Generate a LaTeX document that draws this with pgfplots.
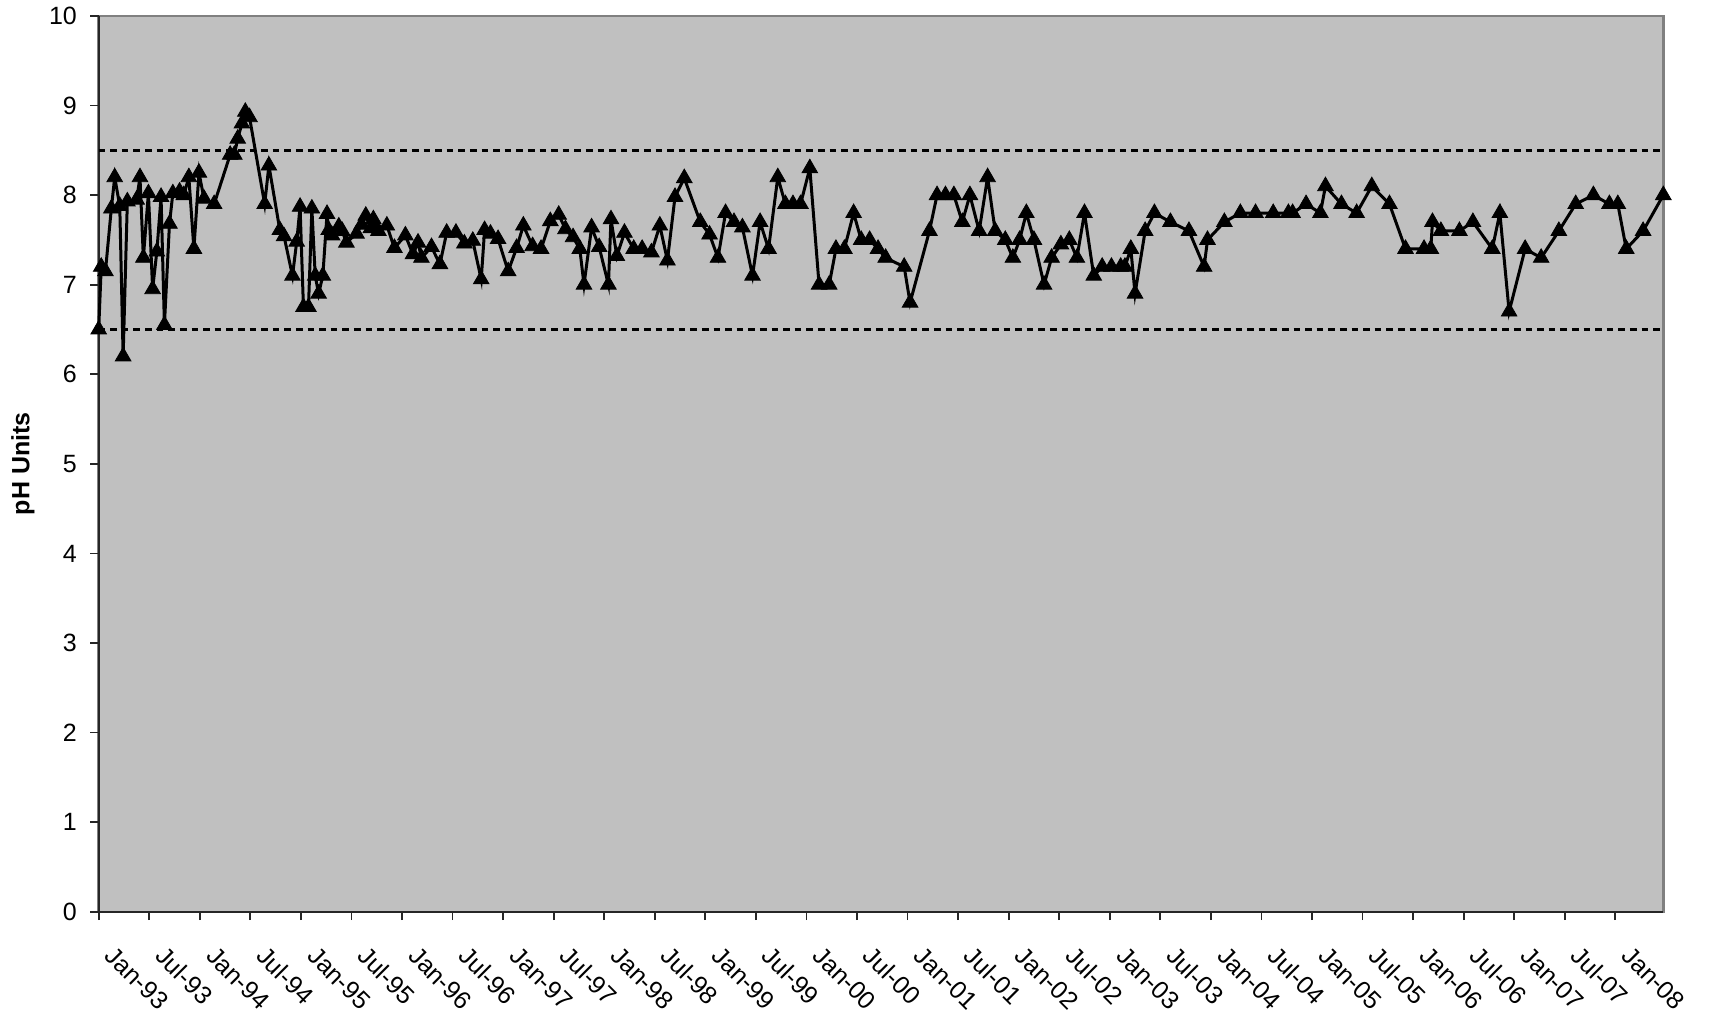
\documentclass[border=0pt]{standalone}
\usepackage{fontspec}
\setmainfont{Liberation Sans}
\usepackage{pgfplots}
\pgfplotsset{compat=1.18}
\definecolor{plotbg}{HTML}{C0C0C0}
\definecolor{framegray}{HTML}{808080}
\begin{document}
\begin{tikzpicture}
\begin{axis}[
  scale only axis,
  width=782.3pt, height=447.85pt,
  xmin=0, xmax=185.7, ymin=0, ymax=10,
  enlargelimits=false,
  axis lines=left,
  axis line style={-, black!85, line width=0.9pt},
  axis background/.style={fill=plotbg, draw=framegray, line width=1.2pt},
  tick align=outside,
  major tick length=4.2pt,
  tick style={black!85, line width=0.9pt},
  xtick={0,6,...,180},
  xticklabels={Jan-93,Jul-93,Jan-94,Jul-94,Jan-95,Jul-95,Jan-96,Jul-96,Jan-97,Jul-97,Jan-98,Jul-98,Jan-99,Jul-99,Jan-00,Jul-00,Jan-01,Jul-01,Jan-02,Jul-02,Jan-03,Jul-03,Jan-04,Jul-04,Jan-05,Jul-05,Jan-06,Jul-06,Jan-07,Jul-07,Jan-08},
  ytick={0,1,...,10},
  /pgf/number format/assume math mode=true,
  ticklabel style={font=\fontsize{12.5}{14}\selectfont},
  xticklabel style={xshift=8.8pt, yshift=-12.2pt, rotate=-45, anchor=north west, inner sep=0pt},
  yticklabel style={anchor=east, inner sep=0pt, xshift=-6.5pt},
  every axis y label/.style={at={(axis description cs:-0.0484,0.5)}, rotate=90, anchor=center, font=\fontsize{12.5}{14}\selectfont\bfseries},
  ylabel={pH Units},
  clip=false,
]
\addplot[black, line width=1.3pt, dash pattern=on 3.3pt off 2.5pt, forget plot] coordinates {(0,8.5) (185.7,8.5)};
\addplot[black, line width=1.3pt, dash pattern=on 3.3pt off 2.5pt, forget plot] coordinates {(0,6.5) (185.7,6.5)};
\addplot[black, line width=1.5pt, mark=triangle*, mark size=4.5pt, mark options={solid, fill=black, line width=0.4pt}] table {
x y
0.0 6.50
0.3 7.20
0.8 7.15
1.5 7.85
1.9 8.20
2.5 7.88
2.9 6.20
3.4 7.93
4.5 7.95
4.9 8.20
5.3 7.30
5.9 8.02
6.4 6.95
6.9 7.37
7.4 7.98
7.8 6.55
8.4 7.68
8.8 8.02
9.6 8.04
10.1 8.00
10.7 8.20
11.3 7.40
11.9 8.25
12.5 7.96
13.7 7.90
15.6 8.45
16.1 8.45
16.5 8.63
17.0 8.80
17.4 8.93
17.9 8.87
19.7 7.90
20.2 8.33
21.5 7.61
22.0 7.54
23.0 7.10
23.5 7.48
23.9 7.87
24.3 6.75
24.9 6.75
25.3 7.85
25.7 7.10
26.1 6.90
26.6 7.10
27.1 7.79
27.3 7.61
27.7 7.55
28.5 7.65
28.9 7.60
29.4 7.47
30.6 7.57
31.2 7.67
31.7 7.77
32.3 7.63
32.6 7.73
33.2 7.60
34.2 7.66
35.1 7.41
36.4 7.55
37.3 7.34
37.9 7.47
38.3 7.30
39.5 7.42
40.5 7.23
41.3 7.58
42.4 7.58
43.4 7.46
44.4 7.49
45.4 7.06
45.8 7.61
46.5 7.57
47.4 7.51
48.6 7.15
49.6 7.41
50.4 7.66
51.5 7.43
52.5 7.40
53.6 7.71
54.6 7.78
55.4 7.62
56.3 7.53
57.1 7.40
57.6 7.00
58.5 7.64
59.4 7.42
60.5 7.00
60.8 7.73
61.5 7.32
62.4 7.58
63.5 7.40
64.5 7.40
65.6 7.36
66.6 7.66
67.5 7.27
68.4 7.98
69.5 8.19
71.4 7.70
72.5 7.56
73.5 7.30
74.4 7.80
75.4 7.70
76.4 7.64
77.6 7.10
78.5 7.70
79.5 7.40
80.6 8.20
81.5 7.90
82.4 7.90
83.3 7.90
84.4 8.30
85.5 7.00
86.7 7.00
87.5 7.40
88.5 7.40
89.6 7.80
90.5 7.50
91.5 7.50
92.5 7.40
93.4 7.30
95.6 7.20
96.3 6.80
98.6 7.60
99.5 8.00
100.5 8.00
101.5 8.00
102.5 7.70
103.4 8.00
104.5 7.60
105.5 8.20
106.4 7.60
107.6 7.50
108.5 7.30
109.3 7.50
110.1 7.80
111.0 7.50
112.2 7.00
113.1 7.30
114.2 7.45
115.2 7.50
116.1 7.30
117.0 7.80
118.1 7.10
119.1 7.20
120.2 7.20
121.3 7.20
121.8 7.20
122.5 7.40
123.0 6.90
124.2 7.60
125.3 7.80
127.2 7.70
129.4 7.60
131.2 7.20
131.6 7.50
133.6 7.70
135.5 7.80
137.3 7.80
139.4 7.80
141.2 7.80
141.7 7.80
143.3 7.90
145.0 7.80
145.6 8.10
147.5 7.90
149.3 7.80
151.1 8.10
153.2 7.90
155.1 7.40
157.3 7.40
158.1 7.40
158.3 7.70
159.3 7.60
161.5 7.60
163.1 7.70
165.4 7.40
166.3 7.80
167.4 6.70
169.3 7.40
171.2 7.30
173.3 7.60
175.3 7.90
177.4 8.00
179.3 7.90
180.3 7.90
181.3 7.40
183.3 7.60
185.7 8.00
};
\end{axis}
\pgfresetboundingbox
\path[use as bounding box] ([xshift=-49.35pt,yshift=-52.65pt]current axis.south west) rectangle ([xshift=23.85pt,yshift=8pt]current axis.north east);
\end{tikzpicture}
\end{document}
